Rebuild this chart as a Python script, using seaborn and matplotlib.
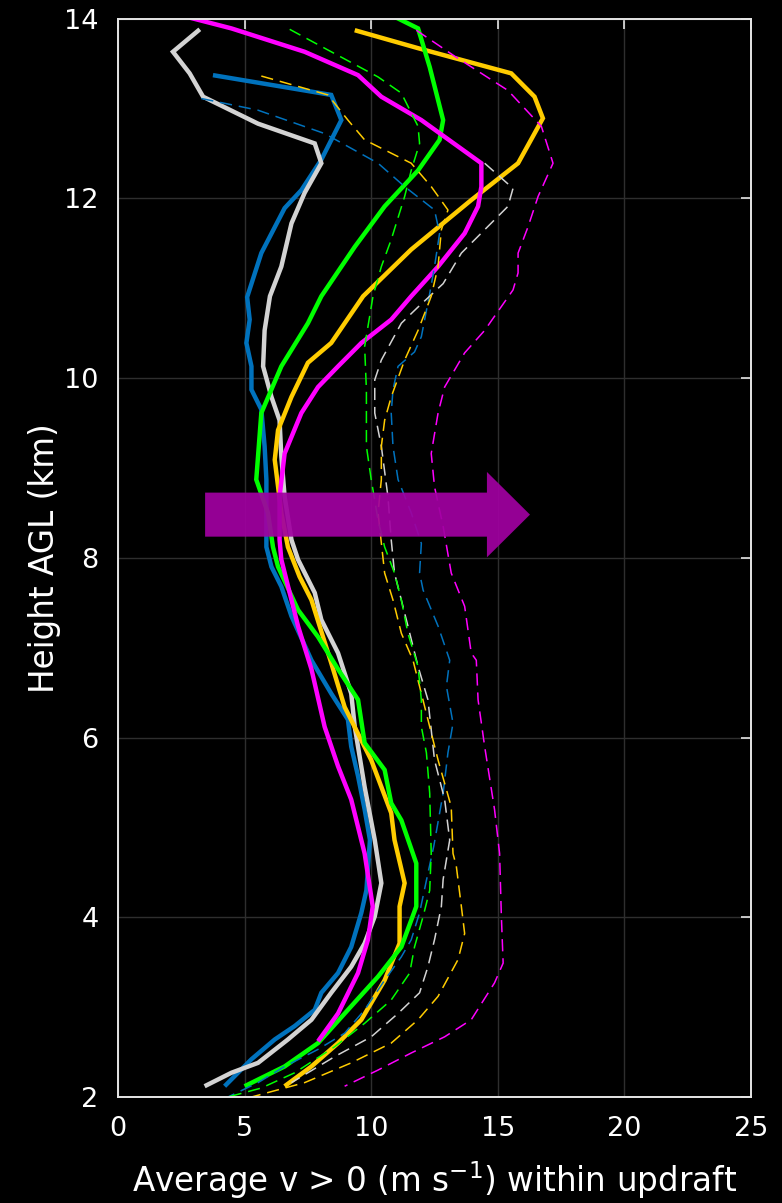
import matplotlib
matplotlib.use("Agg")
import matplotlib.pyplot as plt
import seaborn as sns

# ---------------- data (value in m/s, height in km) ----------------
blue_h = [13.37, 13.15, 12.87, 12.43, 12.09, 11.89, 11.39, 10.90, 10.65, 10.39, 10.13, 9.87, 9.65,
          9.24, 8.87, 8.50, 8.12, 7.90, 7.68, 7.35, 6.86, 6.49, 6.20, 5.90, 5.57, 5.20, 4.86, 4.30,
          4.05, 3.67, 3.38, 3.16, 2.97, 2.79, 2.64, 2.42, 2.12]
blue_v = [3.75, 8.42, 8.82, 8.03, 7.24, 6.58, 5.66, 5.10, 5.20, 5.07, 5.27, 5.27, 5.66,
          5.79, 5.86, 5.86, 5.86, 6.06, 6.45, 6.85, 7.64, 8.42, 9.08, 9.21, 9.48, 9.74, 9.95, 9.81,
          9.61, 9.21, 8.69, 8.03, 7.77, 6.98, 6.19, 5.27, 4.21]

gray_h = [13.88, 13.63, 13.39, 13.13, 12.83, 12.61, 12.39, 12.06, 11.72, 11.24, 10.91, 10.53, 10.13,
          9.79, 9.53, 9.13, 8.68, 8.20, 7.98, 7.61, 7.31, 6.94, 6.49, 6.12, 5.45, 4.86, 4.38, 4.01,
          3.71, 3.45, 3.16, 2.86, 2.64, 2.38, 2.27, 2.12]
gray_v = [3.23, 2.17, 2.83, 3.36, 5.53, 7.77, 8.03, 7.37, 6.85, 6.45, 6.00, 5.79, 5.73,
          6.06, 6.38, 6.45, 6.58, 6.85, 7.11, 7.77, 8.03, 8.69, 9.21, 9.35, 9.74, 10.14, 10.40, 10.14,
          9.74, 9.21, 8.42, 7.64, 6.71, 5.53, 4.48, 3.42]

yellow_h = [13.87, 13.67, 13.39, 13.13, 12.89, 12.39, 11.98, 11.43, 10.91, 10.39, 10.17, 9.79, 9.42,
            9.09, 8.50, 8.12, 7.79, 7.53, 6.83, 6.34, 5.75, 5.16, 4.86, 4.38, 4.12, 3.71, 3.30, 2.86,
            2.60, 2.34, 2.12]
yellow_v = [9.35, 11.85, 15.53, 16.45, 16.78, 15.80, 13.95, 11.58, 9.68, 8.42, 7.50, 6.85, 6.32,
            6.19, 6.45, 6.71, 7.17, 7.64, 8.42, 8.95, 10.00, 10.79, 10.92, 11.32, 11.12, 11.12, 10.53, 9.61,
            8.69, 7.64, 6.58]

green_h = [14.02, 13.89, 13.46, 12.87, 12.65, 12.31, 11.91, 11.46, 10.91, 10.61, 10.13, 9.61, 8.87,
           8.50, 8.12, 7.90, 7.42, 7.12, 6.76, 6.42, 5.94, 5.64, 5.27, 5.08, 4.60, 4.12, 3.67, 3.34,
           3.01, 2.60, 2.34, 2.12]
green_v = [10.92, 11.85, 12.31, 12.84, 12.70, 11.85, 10.53, 9.35, 8.03, 7.50, 6.45, 5.66, 5.46,
           5.92, 6.12, 6.32, 7.11, 7.90, 8.69, 9.48, 9.74, 10.53, 10.79, 11.19, 11.78, 11.78, 11.19, 10.27,
           9.21, 7.90, 6.58, 5.00]

magenta_h = [14.01, 13.89, 13.63, 13.37, 13.13, 12.87, 12.39, 12.13, 11.91, 11.61, 11.24, 10.91, 10.65,
             10.39, 10.13, 9.90, 9.61, 9.16, 8.68, 8.20, 7.98, 7.24, 6.76, 6.12, 5.68, 5.31, 4.71, 4.12,
             3.75, 3.38, 2.93, 2.62]
magenta_v = [2.83, 4.48, 7.37, 9.48, 10.40, 11.98, 14.35, 14.35, 14.22, 13.69, 12.64, 11.58, 10.79,
             9.61, 8.69, 7.90, 7.24, 6.58, 6.38, 6.38, 6.45, 7.11, 7.64, 8.16, 8.69, 9.21, 9.74, 10.06,
             9.87, 9.48, 8.69, 7.90]

blue_d_h = [13.11, 12.98, 12.72, 12.39, 12.13, 11.87, 11.61, 11.24, 10.94, 10.46, 10.29, 10.13, 9.87,
            9.61, 9.24, 8.87, 8.50, 8.16, 7.83, 7.64, 7.24, 6.86, 6.57, 6.16, 5.83, 5.38, 4.79, 4.49,
            4.05, 3.75, 3.56, 3.30, 2.97, 2.71, 2.53, 2.34, 2.16, 2.00]
blue_d_v = [3.29, 5.53, 8.16, 10.27, 11.32, 12.50, 12.70, 12.50, 12.31, 11.98, 11.71, 11.06, 10.86,
            10.79, 10.86, 11.06, 11.58, 11.98, 11.91, 12.05, 12.64, 13.10, 12.97, 13.23, 13.03, 12.84, 12.47, 12.24,
            11.91, 11.58, 11.19, 10.53, 9.74, 8.95, 7.90, 6.58, 5.53, 4.34]

gray_d_h = [12.39, 12.11, 11.91, 11.65, 11.39, 11.05, 10.79, 10.61, 10.20, 9.98, 9.61, 9.24, 8.68,
            8.20, 7.83, 7.24, 6.79, 6.42, 5.75, 5.31, 4.86, 4.42, 4.12, 3.75, 3.45, 3.16, 2.93, 2.67,
            2.45, 2.16]
gray_d_v = [14.48, 15.60, 15.40, 14.48, 13.56, 12.84, 11.85, 11.19, 10.40, 10.14, 10.14, 10.40, 10.66,
            10.79, 10.92, 11.45, 11.85, 12.24, 12.50, 12.90, 13.10, 12.84, 12.77, 12.50, 12.24, 11.91, 11.06, 10.00,
            8.56, 6.85]

yellow_d_h = [13.36, 13.15, 12.87, 12.65, 12.39, 12.13, 11.87, 11.65, 11.24, 10.91, 10.53, 10.20, 9.79,
              9.53, 9.24, 8.87, 8.50, 7.83, 7.53, 7.16, 6.86, 6.49, 6.12, 5.75, 5.23, 4.71, 4.57, 4.12,
              3.82, 3.53, 3.12, 2.86, 2.60, 2.38, 2.16, 2.00]
yellow_d_v = [5.66, 8.29, 9.08, 9.74, 11.58, 12.37, 13.03, 12.77, 12.64, 12.37, 11.85, 11.32, 10.79,
              10.53, 10.40, 10.40, 10.27, 10.53, 10.86, 11.19, 11.65, 11.98, 12.31, 12.64, 13.16, 13.23, 13.36, 13.56,
              13.69, 13.43, 12.64, 11.85, 10.79, 9.21, 7.37, 5.27]

green_d_h = [13.88, 13.65, 13.35, 13.17, 12.80, 12.61, 12.31, 12.02, 11.54, 11.24, 10.91, 10.35, 9.87,
             9.24, 8.87, 8.42, 8.12, 7.83, 7.53, 7.16, 6.79, 6.42, 6.12, 5.83, 5.38, 4.71, 4.30, 4.01,
             3.67, 3.38, 3.08, 2.82, 2.56, 2.27, 2.10, 2.00]
green_d_v = [6.78, 8.29, 10.27, 11.19, 11.85, 11.91, 11.58, 11.32, 10.79, 10.40, 10.07, 9.74, 9.81,
             9.81, 10.00, 10.27, 10.53, 10.92, 11.19, 11.45, 11.85, 11.98, 11.98, 12.18, 12.31, 12.37, 12.31, 12.05,
             11.71, 11.52, 10.79, 9.74, 8.56, 6.98, 5.66, 4.34]

magenta_d_h = [13.87, 13.58, 13.20, 12.80, 12.39, 12.02, 11.68, 11.39, 11.17, 10.98, 10.53, 10.28, 9.90,
               9.61, 9.16, 8.79, 8.35, 7.83, 7.46, 6.94, 6.86, 6.42, 5.90, 5.20, 4.71, 4.01, 3.49, 3.27,
               2.86, 2.67, 2.49, 2.30, 2.12]
magenta_d_v = [11.78, 13.30, 15.40, 16.72, 17.18, 16.59, 16.19, 15.80, 15.80, 15.60, 14.48, 13.69, 12.90,
               12.64, 12.37, 12.50, 12.84, 13.16, 13.69, 13.95, 14.15, 14.22, 14.48, 14.87, 15.07, 15.14, 15.21, 14.87,
               13.95, 12.90, 11.58, 10.27, 8.95]

x_ticks = [0, 5, 10, 15, 20, 25]
y_ticks = [2, 4, 6, 8, 10, 12, 14]
x_label = "Average v > 0 (m s$^{-1}$) within updraft"
y_label = "Height AGL (km)"

# arrow annotation (start x, height, end x)
arrow_x0, arrow_y, arrow_x1 = 3.44, 8.48, 16.27

# ---------------- style ----------------
sns.set_theme(style="dark", rc={
    "figure.facecolor": "black", "axes.facecolor": "black",
    "axes.edgecolor": "#e6e6e6", "text.color": "white",
    "axes.labelcolor": "white", "xtick.color": "white", "ytick.color": "white",
    "grid.color": "#2e2e2e", "axes.grid": True,
})
plt.rcParams["font.family"] = ["DejaVu Sans"]

fig = plt.figure(figsize=(7.82, 12.03), dpi=100)
ax = fig.add_axes([0.1509, 0.0881, 0.8095, 0.8965])

C_BLUE, C_GRAY, C_YEL, C_GRN, C_MAG = "#0072BD", "#D3D3D3", "#FFCC00", "#00FF00", "#FF00FF"

solid = [(blue_v, blue_h, C_BLUE), (gray_v, gray_h, C_GRAY), (yellow_v, yellow_h, C_YEL),
         (green_v, green_h, C_GRN), (magenta_v, magenta_h, C_MAG)]
dashed = [(blue_d_v, blue_d_h, C_BLUE), (gray_d_v, gray_d_h, C_GRAY), (yellow_d_v, yellow_d_h, C_YEL),
          (green_d_v, green_d_h, C_GRN), (magenta_d_v, magenta_d_h, C_MAG)]

for v, h, c in solid:
    sns.lineplot(x=v, y=h, sort=False, estimator=None, color=c, linewidth=3.2, ax=ax,
                 solid_joinstyle="miter", solid_capstyle="butt")
for v, h, c in dashed:
    sns.lineplot(x=v, y=h, sort=False, estimator=None, color=c, linewidth=1.1, ax=ax,
                 dashes=False)
for ln in ax.lines[len(solid):]:
    ln.set_dashes((8, 4.5))

ax.arrow(arrow_x0, arrow_y, arrow_x1 - arrow_x0, 0, width=0.49, head_width=0.95,
         head_length=1.7, length_includes_head=True, color="#A000A0", alpha=0.93,
         linewidth=0, zorder=10)

ax.set_xlim(0, 25)
ax.set_ylim(2, 14)
ax.set_xticks(x_ticks)
ax.set_yticks(y_ticks)
ax.grid(True, color="#2e2e2e", linewidth=1.0)
ax.tick_params(direction="in", top=True, right=True, length=7, width=1.2,
               color="#e6e6e6", labelsize=19.5)
ax.tick_params(axis="x", pad=14)
ax.tick_params(axis="y", pad=14)
for sp in ax.spines.values():
    sp.set_color("#e6e6e6")
    sp.set_linewidth(1.4)
    sp.set_visible(True)

ax.set_xlabel(x_label, fontsize=23.5, labelpad=12)
ax.set_ylabel(y_label, fontsize=23.5, labelpad=2)

fig.savefig("out.png", dpi=100, facecolor="black")
